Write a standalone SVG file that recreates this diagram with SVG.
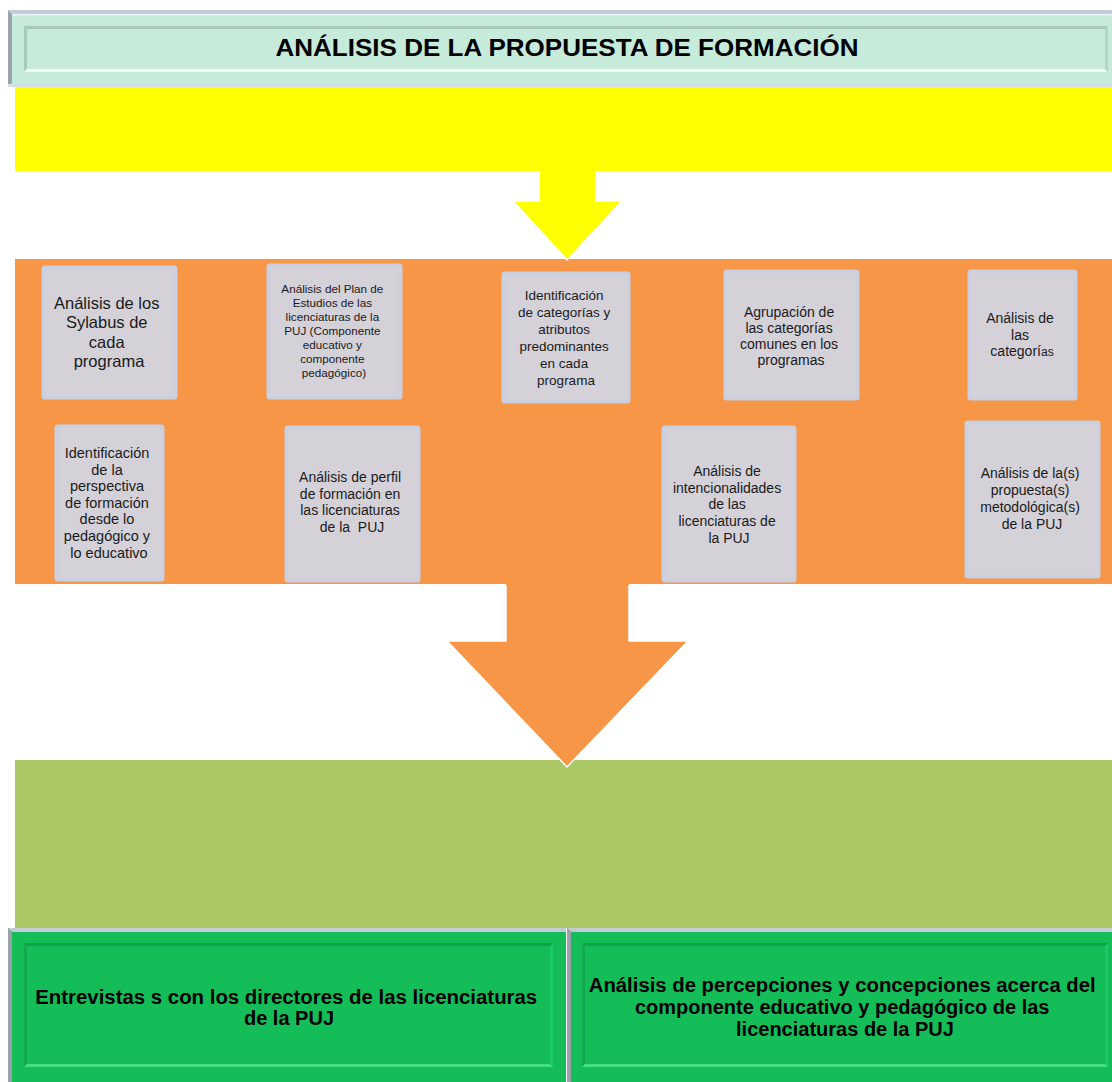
<svg xmlns="http://www.w3.org/2000/svg" width="1112" height="1082" viewBox="0 0 1112 1082">
<style>
.band{stroke:none}
.box{fill:#d4d1d9;stroke:#c9d0e2;stroke-width:3}
.t{font-family:"Liberation Sans",Arial,sans-serif;fill:#1a1a1a;text-anchor:middle}
.tb{font-family:"Liberation Sans",Arial,sans-serif;font-weight:bold;fill:#000;text-anchor:middle}
.arrowline{fill:none;stroke:#ffffff;stroke-width:1.5;stroke-linejoin:miter}
</style>
<rect width="1112" height="1082" fill="#ffffff"/>

<g id="header">
  <rect x="8" y="10" width="1106" height="77" fill="#c6ebdb"/>
  <polygon points="8,10 1114,10 1114,14 12,14" fill="#c3cad8"/>
  <rect x="12" y="14" width="1102" height="1.5" fill="#e8f4fa"/>
  <polygon points="8,10 12,14 12,83 8,87" fill="#9ca3ad"/>
  <rect x="8" y="84" width="1106" height="3" fill="#d5dde6"/>
  <rect x="24" y="26" width="1084" height="46" fill="#c6ebdb"/>
  <polygon points="24,26 1108,26 1105,29 27,29" fill="#a7c7b8"/>
  <polygon points="24,26 27,29 27,69 24,72" fill="#a9c9ba"/>
  <polygon points="24,72 27,69 1105,69 1108,72" fill="#effdf5"/>
  <polygon points="1108,26 1105,29 1105,69 1108,72" fill="#b3d3c4"/>
  <text class="tb" x="567" y="56" font-size="23" textLength="583" lengthAdjust="spacingAndGlyphs">ANÁLISIS DE LA PROPUESTA DE FORMACIÓN</text>
</g>

<g id="yellow-band">
  <rect class="band" x="15" y="87" width="1097" height="84" fill="#ffff00"/>
</g>

<g id="orange-band">
  <rect class="band" x="15" y="259" width="1097" height="325" fill="#f79646"/>
</g>

<g id="green-band">
  <rect class="band" x="15" y="760" width="1097" height="168" fill="#aac866"/>
</g>

<g id="connectors">
  <polygon points="539,169 596,169 596,201 622,201 567,260 513,201 539,201" fill="#ffff00"/>
  <polyline class="arrowline" points="596,171.5 596,201 622,201 567,260 513,201 539,201 539,171.5"/>
  <polygon points="506,582 629,582 629,641 688,641 567,767 447,641 506,641" fill="#f79646"/>
  <polyline class="arrowline" points="629,585 629,641 688,641 567,767 447,641 506,641 506,585"/>
</g>

<g id="box1">
  <rect class="box" x="43" y="267" width="133" height="131" rx="2"/>
  <text class="t" font-size="16.5">
    <tspan x="109" y="309">Análisis de los</tspan>
    <tspan x="109" y="328">Sylabus de</tspan>
    <tspan x="109" y="348">cada</tspan>
    <tspan x="109" y="367">programa</tspan>
  </text>
</g>

<g id="box2">
  <rect class="box" x="268" y="265" width="133" height="133" rx="2"/>
  <text class="t" font-size="11.7">
    <tspan x="334" y="293">Análisis del Plan de</tspan>
    <tspan x="334" y="307">Estudios de las</tspan>
    <tspan x="334" y="321">licenciaturas de la</tspan>
    <tspan x="334" y="335">PUJ (Componente</tspan>
    <tspan x="334" y="349">educativo y</tspan>
    <tspan x="334" y="363">componente</tspan>
    <tspan x="334" y="377">pedagógico)</tspan>
  </text>
</g>

<g id="box3">
  <rect class="box" x="503" y="273" width="126" height="129" rx="2"/>
  <text class="t" font-size="13.5">
    <tspan x="566" y="300">Identificación</tspan>
    <tspan x="566" y="317">de categorías y</tspan>
    <tspan x="566" y="334">atributos</tspan>
    <tspan x="566" y="351">predominantes</tspan>
    <tspan x="566" y="368">en cada</tspan>
    <tspan x="566" y="385">programa</tspan>
  </text>
</g>

<g id="box4">
  <rect class="box" x="725" y="271" width="133" height="128" rx="2"/>
  <text class="t" font-size="14">
    <tspan x="791" y="317">Agrupación de</tspan>
    <tspan x="791" y="333">las categorías</tspan>
    <tspan x="791" y="349">comunes en los</tspan>
    <tspan x="791" y="365">programas</tspan>
  </text>
</g>

<g id="box5">
  <rect class="box" x="969" y="271" width="107" height="128" rx="2"/>
  <text class="t" font-size="14">
    <tspan x="1022" y="323">Análisis de</tspan>
    <tspan x="1022" y="340">las</tspan>
    <tspan x="1022" y="356">categorí<tspan font-size="12">as</tspan></tspan>
  </text>
</g>

<g id="box6">
  <rect class="box" x="56" y="426" width="107" height="154" rx="2"/>
  <text class="t" font-size="14.5">
    <tspan x="109" y="458">Identificación</tspan>
    <tspan x="109" y="475">de la</tspan>
    <tspan x="109" y="491">perspectiva</tspan>
    <tspan x="109" y="508">de formación</tspan>
    <tspan x="109" y="524">desde lo</tspan>
    <tspan x="109" y="541">pedagógico y</tspan>
    <tspan x="109" y="558">lo educativo</tspan>
  </text>
</g>

<g id="box7">
  <rect class="box" x="286" y="427" width="133" height="154" rx="2"/>
  <text class="t" font-size="14">
    <tspan x="352" y="482">Análisis de perfil</tspan>
    <tspan x="352" y="499">de formación en</tspan>
    <tspan x="352" y="515">las licenciaturas</tspan>
    <tspan x="352" y="532" xml:space="preserve">de la  PUJ</tspan>
  </text>
</g>

<g id="box8">
  <rect class="box" x="663" y="427" width="132" height="154" rx="2"/>
  <text class="t" font-size="14">
    <tspan x="729" y="476">Análisis de</tspan>
    <tspan x="729" y="493">intencionalidades</tspan>
    <tspan x="729" y="509">de las</tspan>
    <tspan x="729" y="526">licenciaturas de</tspan>
    <tspan x="729" y="543">la PUJ</tspan>
  </text>
</g>

<g id="box9">
  <rect class="box" x="966" y="422" width="133" height="155" rx="2"/>
  <text class="t" font-size="14">
    <tspan x="1032" y="478">Análisis de la(s)</tspan>
    <tspan x="1032" y="495">propuesta(s)</tspan>
    <tspan x="1032" y="512">metodológica(s)</tspan>
    <tspan x="1032" y="529">de la PUJ</tspan>
  </text>
</g>

<g id="interviews">
  <rect x="8" y="928" width="558" height="154" fill="#15bd59"/>
  <polygon points="8,928 566,928 566,932 12,932" fill="#c3ccd3"/>
  <polygon points="8,928 12,932 12,1082 8,1082" fill="#9aa3a9"/>
  <rect x="24" y="943" width="529" height="124" fill="#15bd59"/>
  <polygon points="24,943 553,943 550,946 27,946" fill="#10a24b"/>
  <polygon points="24,943 27,946 27,1064 24,1067" fill="#11a84e"/>
  <polygon points="24,1067 27,1064 550,1064 553,1067" fill="#45e081"/>
  <polygon points="553,943 550,946 550,1064 553,1067" fill="#1cc962"/>
  <text class="tb" font-size="20">
    <tspan x="289" y="1004" textLength="502" lengthAdjust="spacingAndGlyphs">Entrevistas s con los directores de las licenciaturas</tspan>
    <tspan x="289" y="1025">de la PUJ</tspan>
  </text>
</g>

<g id="perceptions">
  <rect x="567" y="928" width="547" height="154" fill="#15bd59"/>
  <polygon points="567,928 1114,928 1114,932 571,932" fill="#c3ccd3"/>
  <polygon points="567,928 571,932 571,1082 567,1082" fill="#9aa3a9"/>
  <rect x="582" y="943" width="526" height="124" fill="#15bd59"/>
  <polygon points="582,943 1108,943 1105,946 585,946" fill="#10a24b"/>
  <polygon points="582,943 585,946 585,1064 582,1067" fill="#11a84e"/>
  <polygon points="582,1067 585,1064 1105,1064 1108,1067" fill="#45e081"/>
  <polygon points="1108,943 1105,946 1105,1064 1108,1067" fill="#1cc962"/>
  <text class="tb" font-size="20">
    <tspan x="845" y="992" textLength="507" lengthAdjust="spacingAndGlyphs">Análisis de percepciones y concepciones acerca del</tspan>
    <tspan x="845" y="1014">componente educativo y pedagógico de las</tspan>
    <tspan x="845" y="1036">licenciaturas de la PUJ</tspan>
  </text>
</g>
</svg>
